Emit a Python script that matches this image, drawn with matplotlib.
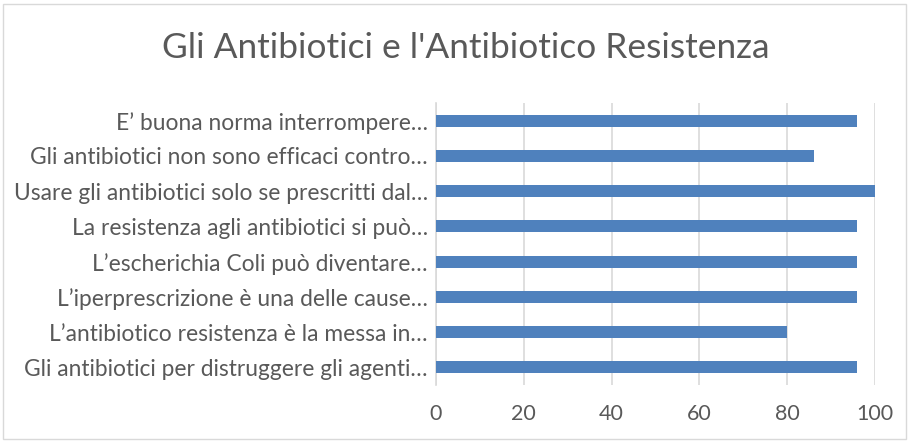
import matplotlib
matplotlib.use("Agg")
import matplotlib.pyplot as plt
from matplotlib.patches import Rectangle

plt.rcParams['font.family'] = ['Lato', 'DejaVu Sans']

title = "Gli Antibiotici e l'Antibiotico Resistenza"
categories = [
    "Gli antibiotici per distruggere gli agenti…",
    "L’antibiotico resistenza è la messa in…",
    "L’iperprescrizione è una delle cause…",
    "L’escherichia Coli può diventare…",
    "La resistenza agli antibiotici si può…",
    "Usare gli antibiotici solo se prescritti dal…",
    "Gli antibiotici non sono efficaci contro…",
    "E’ buona norma interrompere…",
]
values = [96, 80, 96, 96, 96, 100, 86, 96]
xticks = [0, 20, 40, 60, 80, 100]

W, H = 910, 443
fig = plt.figure(figsize=(W / 100, H / 100), dpi=100)
ax = fig.add_axes([436 / W, 1 - 385 / H, (875 - 436) / W, (385 - 103) / H])

ypos = list(range(len(categories)))
ax.barh(ypos, values, height=0.34, color="#4f81bd", zorder=3)
ax.set_ylim(-0.5, len(categories) - 0.5)
ax.set_xlim(0, 100)
ax.set_xticks(xticks)
ax.set_xticklabels([str(t) for t in xticks])
ax.set_yticks(ypos)
ax.set_yticklabels(categories)

ax.grid(axis="x", color="#d9d9d9", linewidth=1.2, zorder=0)
for s in ["top", "right", "bottom"]:
    ax.spines[s].set_visible(False)
ax.spines["left"].set_color("#d9d9d9")
ax.spines["left"].set_linewidth(1.2)
ax.tick_params(axis="both", length=0, colors="#595959")
ax.tick_params(axis="x", pad=14, labelsize=15.5)
ax.tick_params(axis="y", pad=6, labelsize=16.4)

fig.text(0.512, 1 - 48 / H, title, ha="center", va="center",
         fontsize=25.4, color="#595959")

fig.patches.append(Rectangle((3 / W, 4 / H), (W - 7) / W, (H - 8) / H,
                             transform=fig.transFigure, fill=False,
                             edgecolor="#d9d9d9", linewidth=1.0))

fig.savefig("out.png", dpi=100, facecolor="white")
